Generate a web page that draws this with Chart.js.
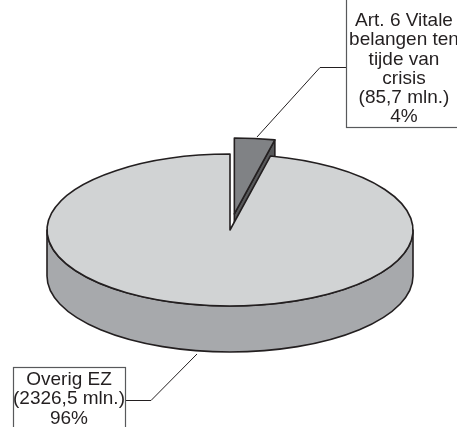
<!DOCTYPE html>
<html>
<head>
<meta charset="utf-8">
<script src="https://cdn.jsdelivr.net/npm/chart.js@4.4.1/dist/chart.umd.min.js"></script>
<style>
  html, body { margin: 0; padding: 0; background: #fff; }
  #wrap { width: 457px; height: 427px; }
</style>
</head>
<body>
<div id="wrap"><canvas id="pie"></canvas></div>
<script>
// budget split (mln. euro)
const categories = ["Art. 6 Vitale belangen ten tijde van crisis", "Overig EZ"];
const amounts = [85.7, 2326.5];
const nameLines = [["Art. 6 Vitale", "belangen ten", "tijde van", "crisis"], ["Overig EZ"]];
const topColors = ["#808285", "#d1d3d4"];
const sideColors = ["#58595b", "#a7a9ac"];

const total = amounts.reduce((a, b) => a + b, 0);
const labelLines = amounts.map((v, i) =>
    nameLines[i].concat(["(" + v.toFixed(1).replace(".", ",") + " mln.)", Math.round(v / total * 100) + "%"]));

// callout boxes, text anchors and leader lines
const callouts = [
    { box: [346.5, -5, 200, 132.5], textX: 404, textY: 21, line: [[346, 67.5], [320, 67.5], [257, 137]] },
    { box: [13.5, 367.5, 112, 100], textX: 69, textY: 380, line: [[126, 400.5], [151, 400.5], [197, 354]] }
];

const INK = "#231f20";

const pie3d = {
    id: "pie3d",
    beforeDatasetsDraw(chart, args, opts) {
        const ctx = chart.ctx;
        const meta = chart.getDatasetMeta(0);
        const k = opts.tilt, D = opts.depth;
        const ds = chart.data.datasets[0];

        let items = meta.data.map((arc, i) => {
            const p = arc.getProps(["x", "y", "startAngle", "endAngle", "outerRadius"], true);
            const mid = (p.startAngle + p.endAngle) / 2;
            const off = opts.explode[i] || 0;
            return {
                s: p.startAngle, e: p.endAngle, r: p.outerRadius, mid: mid,
                cx: p.x + Math.cos(mid) * off,
                cy: p.y + Math.sin(mid) * off * k,
                top: ds.backgroundColor[i], side: opts.sideColors[i]
            };
        });
        items.sort((a, b) => a.cy - b.cy);

        ctx.save();
        ctx.lineWidth = 1.6;
        ctx.lineJoin = "round";
        ctx.strokeStyle = INK;

        items.forEach(it => {
            const rx = it.r, ry = it.r * k;
            const wall = (a) => {
                const px = it.cx + Math.cos(a) * rx, py = it.cy + Math.sin(a) * ry;
                ctx.beginPath();
                ctx.moveTo(it.cx, it.cy);
                ctx.lineTo(px, py);
                ctx.lineTo(px, py + D);
                ctx.lineTo(it.cx, it.cy + D);
                ctx.closePath();
                ctx.fillStyle = it.side;
                ctx.fill();
                ctx.stroke();
            };
            if (Math.cos(it.e) > 0.001) wall(it.e);
            if (Math.cos(it.s) < -0.001) wall(it.s);

            const lo = Math.max(it.s, 0), hi = Math.min(it.e, Math.PI);
            if (hi > lo) {
                ctx.beginPath();
                ctx.ellipse(it.cx, it.cy, rx, ry, 0, lo, hi);
                ctx.ellipse(it.cx, it.cy + D, rx, ry, 0, hi, lo, true);
                ctx.closePath();
                ctx.fillStyle = it.side;
                ctx.fill();
                ctx.stroke();
            }

            ctx.beginPath();
            ctx.moveTo(it.cx, it.cy);
            ctx.ellipse(it.cx, it.cy, rx, ry, 0, it.s, it.e);
            ctx.closePath();
            ctx.fillStyle = it.top;
            ctx.fill();
            ctx.stroke();
        });
        ctx.restore();
        return false;
    },
    afterDraw(chart) {
        const ctx = chart.ctx;
        ctx.save();
        callouts.forEach((c, i) => {
            ctx.strokeStyle = INK;
            ctx.lineWidth = 1;
            ctx.beginPath();
            c.line.forEach((pt, j) => j ? ctx.lineTo(pt[0], pt[1]) : ctx.moveTo(pt[0], pt[1]));
            ctx.stroke();

            ctx.fillStyle = "#fff";
            ctx.fillRect(c.box[0], c.box[1], c.box[2], c.box[3]);
            ctx.strokeStyle = "#58595b";
            ctx.lineWidth = 1.2;
            ctx.strokeRect(c.box[0], c.box[1], c.box[2], c.box[3]);

            ctx.fillStyle = INK;
            ctx.font = "19px 'Liberation Sans', Arial, sans-serif";
            ctx.textAlign = "center";
            ctx.textBaseline = "middle";
            labelLines[i].forEach((t, j) => ctx.fillText(t, c.textX, c.textY + j * 19.2));
        });
        ctx.restore();
    }
};

new Chart(document.getElementById("pie"), {
    type: "pie",
    data: {
        labels: categories,
        datasets: [{ data: amounts, backgroundColor: topColors, borderWidth: 0 }]
    },
    options: {
        responsive: true,
        maintainAspectRatio: false,
        animation: false,
        events: [],
        radius: 183,
        layout: { padding: { left: 47, right: 44, top: 47, bottom: 14 } },
        plugins: {
            legend: { display: false },
            tooltip: { enabled: false },
            pie3d: { tilt: 0.415, depth: 46, explode: [39, 0], sideColors: sideColors }
        }
    },
    plugins: [pie3d]
});
</script>
</body>
</html>
